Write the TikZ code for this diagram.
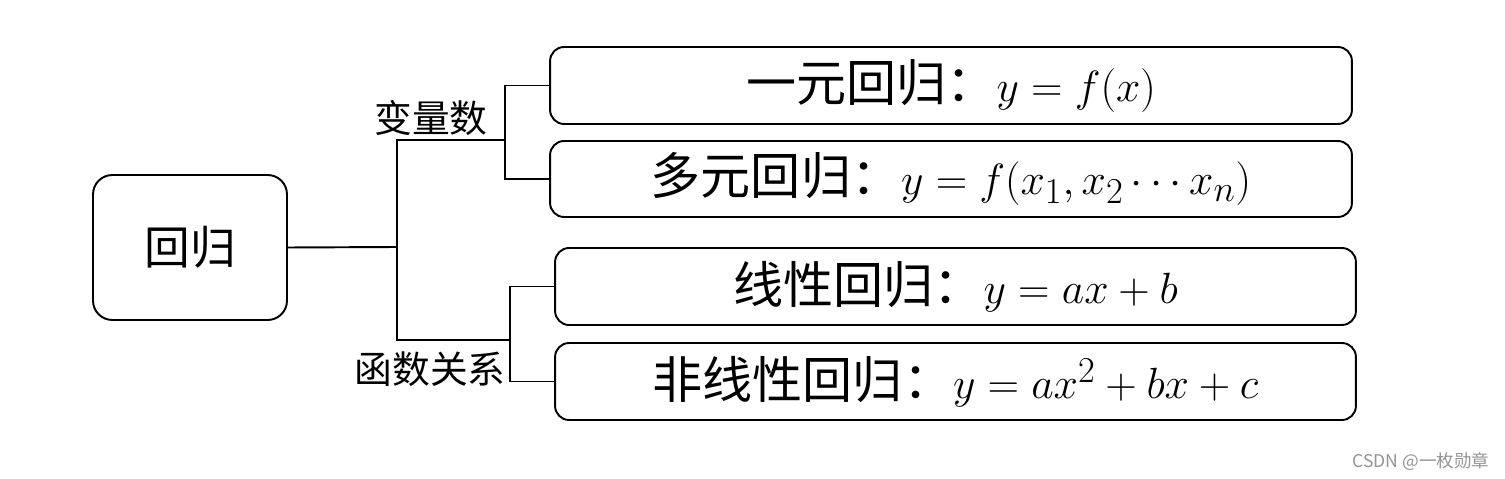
\documentclass[tikz,border=0pt]{standalone}
\usepackage{fontspec}
\newfontfamily\cjk{Noto Sans CJK SC}
\newcommand{\bm}[1]{{\fontsize{30}{34}\selectfont$#1$}}
\begin{document}
\begin{tikzpicture}[x=0.02cm,y=-0.02cm,
  line width=1.1pt,
  rbox/.style={draw, rounded corners=8pt, line width=1.1pt, inner sep=0pt},
  big/.style={font=\cjk\fontsize{26}{30}\selectfont},
  bx/.style={font=\cjk\fontsize{28.5}{32}\selectfont},
  lab/.style={font=\cjk\fontsize{21.5}{24}\selectfont, inner sep=0pt},
  wm/.style={font=\cjk\fontsize{10}{12}\selectfont, text=black!42, inner sep=0pt}]
\useasboundingbox (0,0) rectangle (1505,479);
\node[rbox, rounded corners=11pt, minimum width=3.88cm, minimum height=2.9cm, big] (m) at (190,247.5) {回归};
\node[rbox, minimum width=16.04cm, minimum height=1.54cm, bx] (b1) at (951,85.5) {一元回归：\bm{y=f(x)}};
\node[rbox, minimum width=16.04cm, minimum height=1.52cm, bx] (b2) at (951,179) {多元回归：\bm{y=f(x_1,x_2\cdots x_n)}};
\node[rbox, minimum width=16.02cm, minimum height=1.54cm, bx] (b3) at (955.5,286.5) {线性回归：\bm{y=ax+b}};
\node[rbox, minimum width=16.02cm, minimum height=1.54cm, bx] (b4) at (955.5,381.5) {非线性回归：\bm{y=ax^2+bx+c}};
\coordinate (jm) at (397,247);
\coordinate (u) at (505,140);
\coordinate (l) at (510,340);
\draw (m.east) -- (jm);
\draw (u) -| (jm) |- (l);
\draw (b1.west) -| (u) |- (b2.west);
\draw (b3.west) -| (l) |- (b4.west);
\node[lab] (v) at (431,118) {变量数};
\node[lab] (h) at (430,369) {函数关系};
\node[wm] (w) at (1421,462) {CSDN @一枚勋章};
\end{tikzpicture}
\end{document}
